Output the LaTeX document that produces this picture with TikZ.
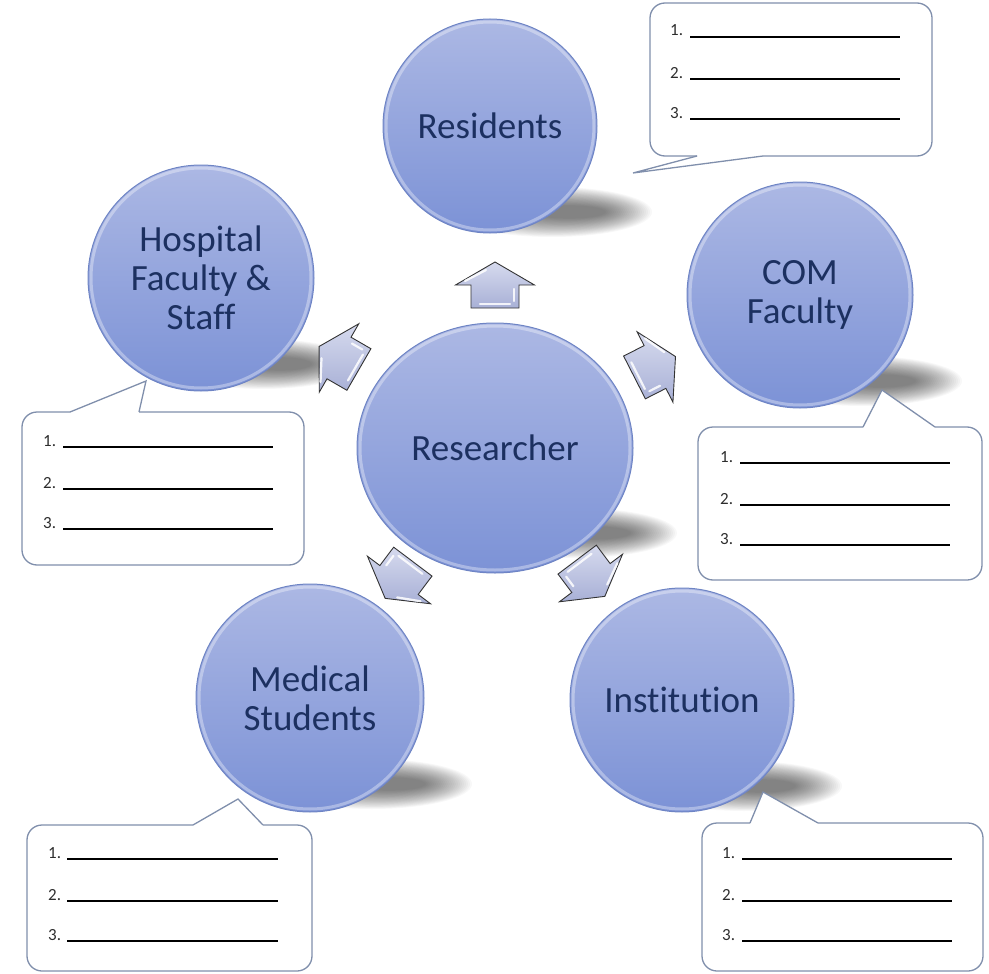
\documentclass[tikz,border=0pt]{standalone}
\usepackage{fontspec}
\setmainfont{Carlito}[Ligatures=NoCommon]
\usetikzlibrary{shapes.geometric}
\definecolor{txtblue}{RGB}{28,48,96}
\definecolor{ctop}{RGB}{172,184,228}
\definecolor{cbot}{RGB}{124,146,214}
\definecolor{cedge}{RGB}{110,132,196}
\definecolor{boxedge}{RGB}{128,143,172}
\definecolor{arrtop}{RGB}{214,218,238}
\definecolor{arrbot}{RGB}{168,176,214}
\definecolor{numgrey}{RGB}{45,45,45}
\tikzset{
  bubble/.style={circle, minimum size=#1, inner sep=0pt, top color=ctop, bottom color=cbot,
    draw=cedge, line width=1pt, text=txtblue, align=center,
    font=\fontsize{37}{39}\selectfont},
  bubbleell/.style={ellipse, minimum width=276, minimum height=250, inner sep=0pt,
    top color=ctop, bottom color=cbot, draw=cedge, line width=1pt, text=txtblue,
    font=\fontsize{37}{39}\selectfont},
  rim/.style={draw=white, opacity=0.35, line width=3pt},
  shadowlayer/.style={fill=black, opacity=0.028},
  boxfill/.style={fill=white},
  boxline/.style={draw=boxedge, line width=1.3pt, line join=miter},
  numtxt/.style={text=numgrey, font=\fontsize{17}{19}\selectfont, inner sep=0pt},
  blank/.style={draw=black, line width=1.4pt},
  arrowbody/.style={draw=black!80, line width=0.9pt, top color=arrtop, bottom color=arrbot, line join=miter},
  gloss/.style={draw=white, opacity=0.85, line width=2.2pt, line cap=round},
  blockarrow/.pic={
    \draw[arrowbody] (0,-24) -- (0,-39.5) -- (23,0) -- (0,39.5) -- (0,24) -- (-23,24) -- (-23,-24) -- cycle;
    \draw[gloss] (-19,-15) -- (-19,15);
    \draw[gloss] (-16,19) -- (-4,19);
    \draw[gloss] (4,-30) -- (15,-9);
  }
}
\begin{document}
\begin{tikzpicture}[x=1pt,y=-1pt]
\useasboundingbox (0,0) rectangle (989,974);

% soft shadows (stacked translucent ellipses)
\foreach \cx/\cy/\w in {552/212/100, 263/364/95, 862/381/100, 372/784/100, 744/786/98, 575/533/102}{
  \foreach \s in {0,...,23}{
    \fill[shadowlayer] (\cx+0.75*\s,\cy) ellipse [x radius={\w-2.75*\s}, y radius={25-0.8*\s}];
  }
}

% callout: Residents
\fill[boxfill, rounded corners=15] (650,3) rectangle (932,156);
\fill[boxfill] (697,156) -- (633,173) -- (763,156) -- cycle;
\draw[boxline, rounded corners=15] (763,156) -- (932,156) -- (932,3) -- (650,3) -- (650,156) -- (697,156);
\draw[boxline] (697,156) -- (633,173) -- (763,156);

% callout: Hospital
\fill[boxfill, rounded corners=15] (22,412) rectangle (304,565);
\fill[boxfill] (70,412) -- (146,381) -- (139,412) -- cycle;
\draw[boxline, rounded corners=15] (139,412) -- (304,412) -- (304,565) -- (22,565) -- (22,412) -- (70,412);
\draw[boxline] (70,412) -- (146,381) -- (139,412);

% callout: COM
\fill[boxfill, rounded corners=15] (698,427) rectangle (982,580);
\fill[boxfill] (863,427) -- (882,390) -- (935,427) -- cycle;
\draw[boxline, rounded corners=15] (935,427) -- (982,427) -- (982,580) -- (698,580) -- (698,427) -- (863,427);
\draw[boxline] (863,427) -- (882,390) -- (935,427);

% callout: Medical
\fill[boxfill, rounded corners=15] (27,825) rectangle (312,971);
\fill[boxfill] (193,825) -- (238,799) -- (263,825) -- cycle;
\draw[boxline, rounded corners=15] (263,825) -- (312,825) -- (312,971) -- (27,971) -- (27,825) -- (193,825);
\draw[boxline] (193,825) -- (238,799) -- (263,825);

% callout: Institution
\fill[boxfill, rounded corners=15] (702,823) rectangle (983,971);
\fill[boxfill] (750,823) -- (763,792) -- (818,823) -- cycle;
\draw[boxline, rounded corners=15] (818,823) -- (983,823) -- (983,971) -- (702,971) -- (702,823) -- (750,823);
\draw[boxline] (750,823) -- (763,792) -- (818,823);

% numbered blanks
\foreach \id/\nx/\lx/\rx/\ty in {r/670/690/900/37, h/43/63/273/447, c/720/740/950/463, m/48/67/278/859, i/722/742/952/859}{
  \foreach \k/\dy in {1/0, 2/42, 3/82}{
    \node[numtxt, anchor=base west] (\id\k) at (\nx,\ty+\dy-1) {\k.};
    \draw[blank] (\lx,\ty+\dy) -- (\rx,\ty+\dy);
  }
}

% circles
\node[bubble=214] (res) at (490,126) {Residents};
\node[bubble=226] (hos) at (201,278) {Hospital\\Faculty \&\\Staff};
\node[bubble=226] (com) at (800,295) {COM\\Faculty};
\node[bubble=228] (med) at (310,698) {Medical\\Students};
\node[bubble=224] (ins) at (682,700) {Institution};
\node[bubbleell] (rsch) at (495,448) {Researcher};
\draw[rim] (res.center) circle [radius=104];
\draw[rim] (hos.center) circle [radius=110];
\draw[rim] (com.center) circle [radius=110];
\draw[rim] (med.center) circle [radius=111];
\draw[rim] (ins.center) circle [radius=109];
\draw[rim] (rsch.center) ellipse [x radius=135, y radius=122];

% block arrows
\pic[rotate=90] at (495,285) {blockarrow};
\pic[rotate=150] at (339,358) {blockarrow};
\pic[rotate=27] at (655,367) {blockarrow};
\pic[rotate=-127] at (399,580) {blockarrow};
\pic[rotate=-53] at (591,578) {blockarrow};
\end{tikzpicture}
\end{document}
